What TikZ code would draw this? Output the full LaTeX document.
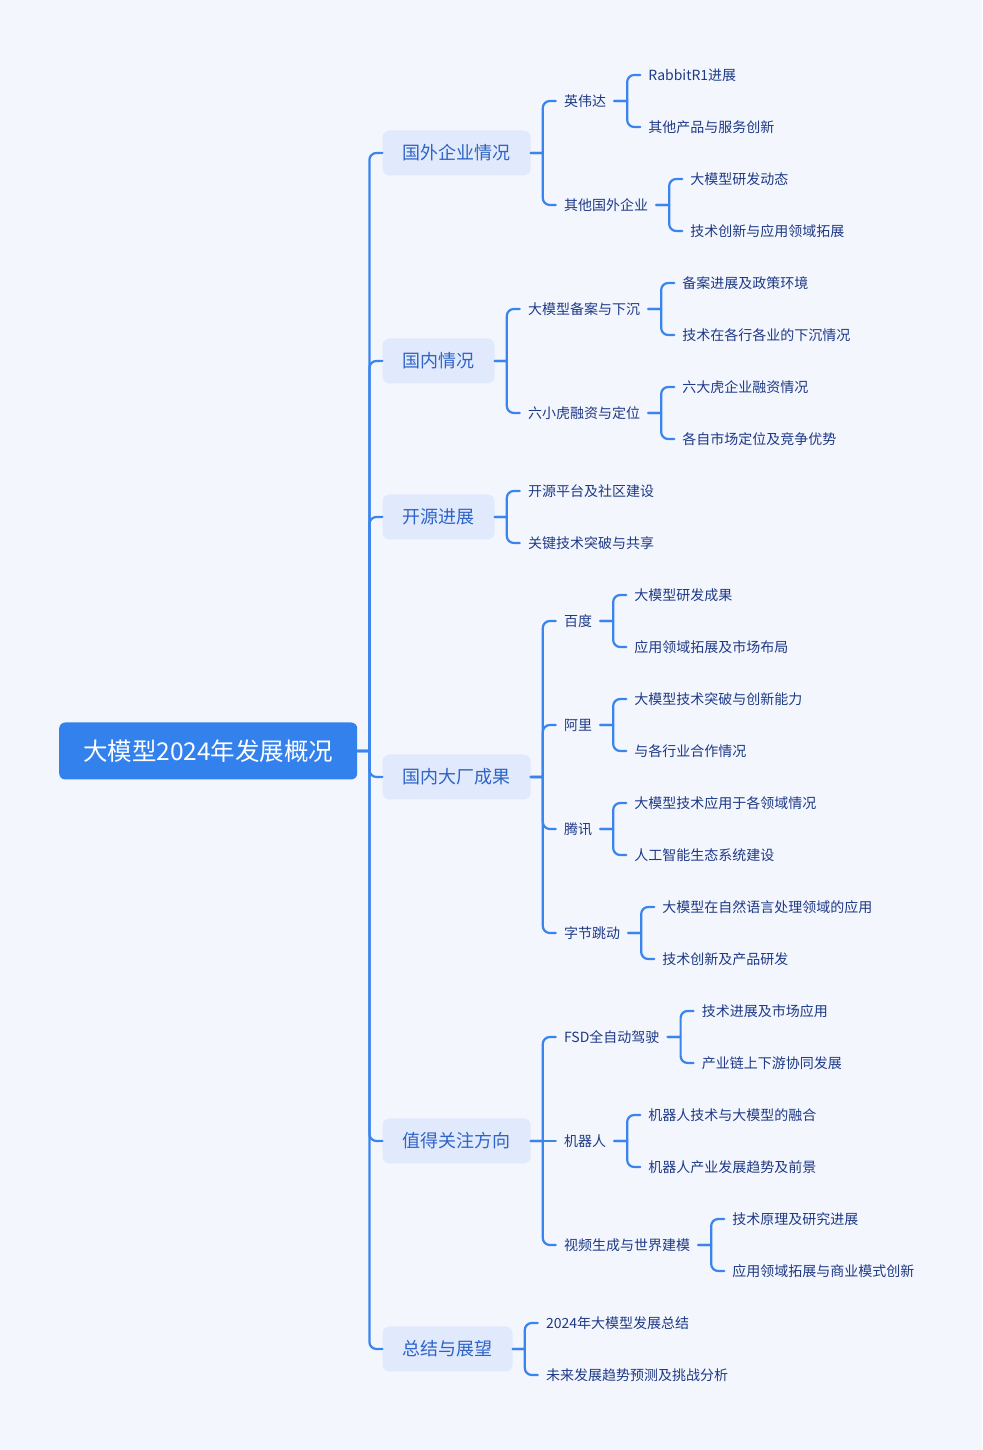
\documentclass[tikz,border=0pt]{standalone}
\usepackage{fontspec}
\setmainfont{Noto Sans CJK SC}
\usetikzlibrary{positioning}

\definecolor{bgcol}{HTML}{F4F6FE}
\definecolor{lineblue}{HTML}{3A84EE}
\definecolor{hubblue}{HTML}{3381EC}
\definecolor{topicfill}{HTML}{E1E9FC}
\definecolor{topicblue}{HTML}{2E64C8}
\definecolor{itemnavy}{HTML}{1E3A86}

\begin{document}
\begin{tikzpicture}[
   hub/.style={fill=hubblue, text=white, rounded corners=6pt, minimum width=298pt, minimum height=57pt, inner sep=0pt, font=\fontsize{24.5}{30}\selectfont},
   topic/.style={fill=topicfill, text=topicblue, rounded corners=7pt, minimum height=45pt, inner xsep=20pt, inner ysep=0pt, font=\fontsize{18}{22}\selectfont},
   item/.style={text=itemnavy, inner sep=0pt, font=\fontsize{14}{17}\selectfont},
   link/.style={draw=lineblue, line width=2.2pt, line cap=round, rounded corners=7pt},
   fork/.style n args={3}{link, to path={([xshift=#1]\tikztostart.east) -- ([xshift=#2]\tikztostart.east) ([xshift=#2]\tikztostart.east) |- ([xshift=-#3]\tikztotarget.west)}},
   trunk/.style={fork={0pt}{12pt}{0pt}},
   limb/.style={fork={0pt}{12pt}{8pt}},
   twig/.style={fork={8pt}{21pt}{8pt}}]

   % Fundo
   \fill[bgcol] (0pt,0pt) rectangle (982pt,1450pt);

   % Raiz
   \node[hub, anchor=west] (root) at (59pt,699pt) {大模型2024年发展概况};

   % Primeiro nível
   \node[topic, right=25pt of root, yshift=598pt] (abroad) {国外企业情况};
   \node[topic, right=25pt of root, yshift=390pt] (home) {国内情况};
   \node[topic, right=25pt of root, yshift=234pt] (opensrc) {开源进展};
   \node[topic, right=25pt of root, yshift=-26pt] (giants) {国内大厂成果};
   \node[topic, right=25pt of root, yshift=-390pt] (focus) {值得关注方向};
   \node[topic, right=25pt of root, yshift=-598pt] (outlook) {总结与展望};

   % Segundo nível
   \node[item, right=33pt of abroad, yshift=52pt] (nvidia) {英伟达};
   \node[item, right=33pt of abroad, yshift=-52pt] (others) {其他国外企业};
   \node[item, right=33pt of home, yshift=52pt] (filing) {大模型备案与下沉};
   \node[item, right=33pt of home, yshift=-52pt] (tigers) {六小虎融资与定位};
   \node[item, right=33pt of opensrc, yshift=26pt] (osplat) {开源平台及社区建设};
   \node[item, right=33pt of opensrc, yshift=-26pt] (osshare) {关键技术突破与共享};
   \node[item, right=33pt of giants, yshift=156pt] (baidu) {百度};
   \node[item, right=33pt of giants, yshift=52pt] (ali) {阿里};
   \node[item, right=33pt of giants, yshift=-52pt] (tencent) {腾讯};
   \node[item, right=33pt of giants, yshift=-156pt] (bytedance) {字节跳动};
   \node[item, right=33pt of focus, yshift=104pt] (fsd) {FSD全自动驾驶};
   \node[item, right=33pt of focus] (robot) {机器人};
   \node[item, right=33pt of focus, yshift=-104pt] (video) {视频生成与世界建模};
   \node[item, right=33pt of outlook, yshift=26pt] (sumup) {2024年大模型发展总结};
   \node[item, right=33pt of outlook, yshift=-26pt] (future) {未来发展趋势预测及挑战分析};

   % Terceiro nível
   \node[item, right=42pt of nvidia, yshift=26pt] (rabbit) {RabbitR1进展};
   \node[item, right=42pt of nvidia, yshift=-26pt] (nvprod) {其他产品与服务创新};
   \node[item, right=42pt of others, yshift=26pt] (othlab) {大模型研发动态};
   \node[item, right=42pt of others, yshift=-26pt] (othtech) {技术创新与应用领域拓展};
   \node[item, right=42pt of filing, yshift=26pt] (filpol) {备案进展及政策环境};
   \node[item, right=42pt of filing, yshift=-26pt] (filind) {技术在各行各业的下沉情况};
   \node[item, right=42pt of tigers, yshift=26pt] (tigfund) {六大虎企业融资情况};
   \node[item, right=42pt of tigers, yshift=-26pt] (tigpos) {各自市场定位及竞争优势};
   \node[item, right=42pt of baidu, yshift=26pt] (bdres) {大模型研发成果};
   \node[item, right=42pt of baidu, yshift=-26pt] (bdmkt) {应用领域拓展及市场布局};
   \node[item, right=42pt of ali, yshift=26pt] (alitech) {大模型技术突破与创新能力};
   \node[item, right=42pt of ali, yshift=-26pt] (alicoop) {与各行业合作情况};
   \node[item, right=42pt of tencent, yshift=26pt] (tcapp) {大模型技术应用于各领域情况};
   \node[item, right=42pt of tencent, yshift=-26pt] (tceco) {人工智能生态系统建设};
   \node[item, right=42pt of bytedance, yshift=26pt] (bytenlp) {大模型在自然语言处理领域的应用};
   \node[item, right=42pt of bytedance, yshift=-26pt] (byteprod) {技术创新及产品研发};
   \node[item, right=42pt of fsd, yshift=26pt] (fsdmkt) {技术进展及市场应用};
   \node[item, right=42pt of fsd, yshift=-26pt] (fsdchain) {产业链上下游协同发展};
   \node[item, right=42pt of robot, yshift=26pt] (robfuse) {机器人技术与大模型的融合};
   \node[item, right=42pt of robot, yshift=-26pt] (robtrend) {机器人产业发展趋势及前景};
   \node[item, right=42pt of video, yshift=26pt] (vidtheory) {技术原理及研究进展};
   \node[item, right=42pt of video, yshift=-26pt] (vidbiz) {应用领域拓展与商业模式创新};

   % Ligações
   \path (root) edge[trunk] (abroad) edge[trunk] (home) edge[trunk] (opensrc)
                edge[trunk] (giants) edge[trunk] (focus) edge[trunk] (outlook);
   \path (abroad) edge[limb] (nvidia) edge[limb] (others);
   \path (home) edge[limb] (filing) edge[limb] (tigers);
   \path (opensrc) edge[limb] (osplat) edge[limb] (osshare);
   \path (giants) edge[limb] (baidu) edge[limb] (ali) edge[limb] (tencent) edge[limb] (bytedance);
   \path (focus) edge[limb] (fsd) edge[limb, sharp corners] (robot) edge[limb] (video);
   \path (outlook) edge[limb] (sumup) edge[limb] (future);
   \path (nvidia) edge[twig] (rabbit) edge[twig] (nvprod);
   \path (others) edge[twig] (othlab) edge[twig] (othtech);
   \path (filing) edge[twig] (filpol) edge[twig] (filind);
   \path (tigers) edge[twig] (tigfund) edge[twig] (tigpos);
   \path (baidu) edge[twig] (bdres) edge[twig] (bdmkt);
   \path (ali) edge[twig] (alitech) edge[twig] (alicoop);
   \path (tencent) edge[twig] (tcapp) edge[twig] (tceco);
   \path (bytedance) edge[twig] (bytenlp) edge[twig] (byteprod);
   \path (fsd) edge[twig] (fsdmkt) edge[twig] (fsdchain);
   \path (robot) edge[twig] (robfuse) edge[twig] (robtrend);
   \path (video) edge[twig] (vidtheory) edge[twig] (vidbiz);
\end{tikzpicture}
\end{document}
